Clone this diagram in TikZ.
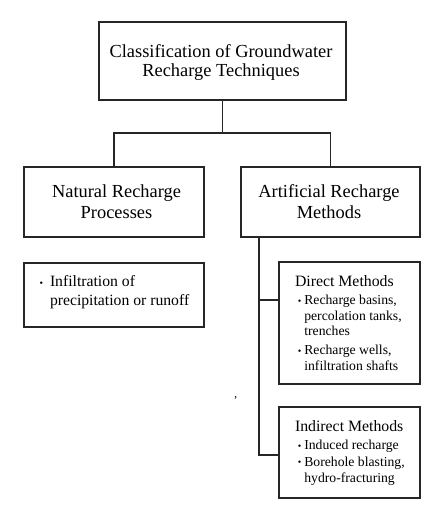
\documentclass[tikz,border=0pt]{standalone}
\usepackage{fontspec}
\setmainfont{Liberation Serif}
\usetikzlibrary{positioning}
\newcommand{\smbul}{\raisebox{0.6pt}{\fontsize{10}{10}\selectfont\textbullet}}
\tikzset{
  box/.style={draw=black!85, line width=1.1pt, inner sep=0pt, fill=white},
  conn/.style={draw=black!85, line width=1.1pt},
  txt/.style={inner sep=0pt, outer sep=0pt, anchor=base west},
}
\begin{document}
\begin{tikzpicture}[x=1pt,y=-1pt]
\useasboundingbox (0,0) rectangle (427,511);
% boxes
\node[box, minimum width=247pt, minimum height=78pt] (top) at (222.5,61) {};
\node[box, minimum width=180pt, minimum height=70pt] (nat) at (114,202) {};
\node[box, minimum width=179pt, minimum height=70pt] (art) at (330.5,202) {};
\node[box, minimum width=180pt, minimum height=64pt] (inf) at (114,295) {};
\node[box, minimum width=141pt, minimum height=122pt] (dir) at (349.5,323) {};
\node[box, minimum width=141pt, minimum height=91pt] (ind) at (349.5,452.5) {};
% connectors
\coordinate (split) at (222.5,133);
\draw[conn] (top.south) -- (split);
\draw[conn] (split) -| (nat.north);
\draw[conn] (split) -| (art.north);
\coordinate (trunk) at (259,237);
\coordinate (trunkend) at (259,455);
\coordinate (br1) at (259,300);
\coordinate (br2) at (279,300);
\coordinate (br3) at (279,455);
\draw[conn] (trunk) -- (trunkend) -- (br3);
\draw[conn] (br1) -- (br2);
% texts
\node[inner sep=0pt, anchor=base] (toptxt) at (221,57) {\fontsize{18.4}{20}\selectfont\begin{tabular}[t]{@{}c@{}}Classification of Groundwater\\Recharge Techniques\end{tabular}};
\node[inner sep=0pt, anchor=base] (nattxt) at (116.5,197.5) {\fontsize{18.4}{21}\selectfont\begin{tabular}[t]{@{}c@{}}Natural Recharge\\Processes\end{tabular}};
\node[inner sep=0pt, anchor=base] (arttxt) at (329,197.5) {\fontsize{18.4}{21}\selectfont\begin{tabular}[t]{@{}c@{}}Artificial Recharge\\Methods\end{tabular}};
\node[txt] (inftxt) at (39.5,286.7) {\fontsize{15.7}{18.3}\selectfont\begin{tabular}[t]{@{}l@{\hspace{7pt}}l@{}}\smbul & Infiltration of\\ & precipitation or runoff\end{tabular}};
\node[txt] (dirtitle) at (295,286.3) {\fontsize{15.8}{18}\selectfont Direct Methods};
\node[txt] (dirtxt) at (297.8,304.7) {\fontsize{13.7}{15.4}\selectfont\begin{tabular}[t]{@{}l@{\hspace{3pt}}l@{}}\smbul & Recharge basins,\\ & percolation tanks,\\ & trenches\\[3.9pt] \smbul & Recharge wells,\\ & infiltration shafts\end{tabular}};
\node[txt] (indtitle) at (295,431.3) {\fontsize{15.8}{18}\selectfont Indirect Methods};
\node[txt] (indtxt) at (297.8,449.7) {\fontsize{13.7}{16.6}\selectfont\begin{tabular}[t]{@{}l@{\hspace{3pt}}l@{}}\smbul & Induced recharge\\ \smbul & Borehole blasting,\\ & hydro-fracturing\end{tabular}};
\node[txt] (tick) at (233.5,404) {\fontsize{12}{12}\selectfont\textquoteright};
\end{tikzpicture}
\end{document}
